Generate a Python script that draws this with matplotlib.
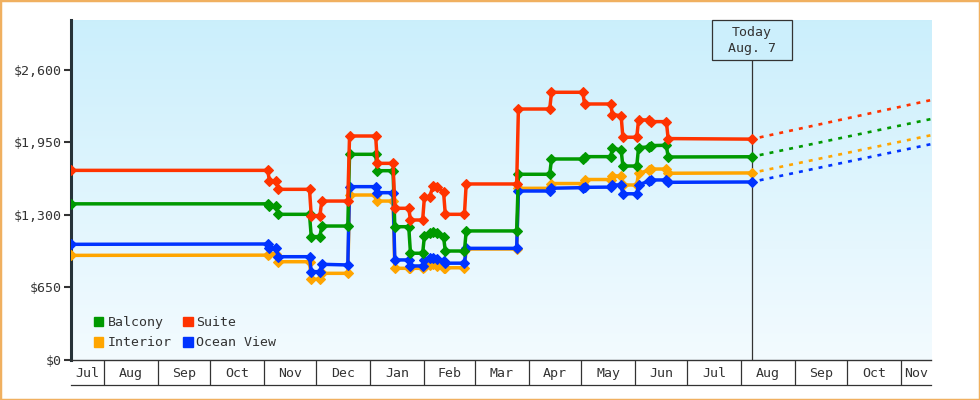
import numpy as np
import matplotlib
matplotlib.use("Agg")
import matplotlib.pyplot as plt
import matplotlib.dates as mdates
import matplotlib.transforms as mtransforms
from matplotlib.patches import Rectangle, Patch

# ---------------- data ----------------
x_start = "2023-07-13"
x_end = "2024-11-18"
today = "2024-08-07"
today_label = "Today\nAug. 7"

month_labels = ["Jul", "Aug", "Sep", "Oct", "Nov", "Dec", "Jan", "Feb", "Mar",
                "Apr", "May", "Jun", "Jul", "Aug", "Sep", "Oct", "Nov"]

y_ticks = [0, 650, 1300, 1950, 2600]
y_tick_labels = ["$0", "$650", "$1,300", "$1,950", "$2,600"]

common_dates = ["2023-07-13", "2023-11-03", "2023-11-04", "2023-11-08", "2023-11-09",
                "2023-11-27", "2023-11-28", "2023-12-03", "2023-12-04", "2023-12-19",
                "2023-12-20", "2024-01-04", "2024-01-05", "2024-01-14", "2024-01-15",
                "2024-01-23", "2024-01-24", "2024-01-31", "2024-02-01", "2024-02-04",
                "2024-02-06", "2024-02-08", "2024-02-12", "2024-02-13", "2024-02-24",
                "2024-02-25", "2024-03-25", "2024-03-26", "2024-04-13", "2024-04-14",
                "2024-05-02", "2024-05-03", "2024-05-18", "2024-05-19", "2024-05-24",
                "2024-05-25", "2024-06-02", "2024-06-03", "2024-06-09", "2024-06-10",
                "2024-06-19", "2024-06-20", "2024-08-07"]

suite_prices = [1700, 1700, 1605, 1605, 1530, 1530, 1294, 1294, 1425, 1425,
                2008, 2008, 1763, 1763, 1360, 1360, 1255, 1255, 1460, 1462,
                1560, 1555, 1505, 1306, 1306, 1578, 1578, 2250, 2250, 2400,
                2400, 2295, 2295, 2200, 2190, 1997, 1997, 2152, 2152, 2137,
                2137, 1985, 1980]

balcony_prices = [1400, 1400, 1381, 1381, 1306, 1306, 1106, 1106, 1201, 1201,
                  1844, 1844, 1697, 1697, 1195, 1195, 957, 957, 1112, 1136,
                  1150, 1136, 1106, 977, 977, 1157, 1157, 1665, 1665, 1802,
                  1802, 1823, 1823, 1898, 1883, 1739, 1739, 1904, 1910, 1922,
                  1925, 1820, 1822]

interior_prices = [938, 940, 952, 952, 881, 881, 724, 724, 777, 777,
                   1479, 1479, 1425, 1425, 822, 822, 822, 822, 830, 855,
                   858, 840, 827, 827, 827, 995, 995, 1539, 1539, 1582,
                   1582, 1618, 1618, 1650, 1650, 1569, 1569, 1674, 1700, 1712,
                   1712, 1674, 1677]

ocean_prices = [1037, 1040, 1001, 1001, 926, 926, 792, 792, 858, 852,
                1554, 1554, 1500, 1500, 897, 897, 843, 843, 897, 915,
                912, 905, 885, 868, 868, 1001, 1001, 1515, 1515, 1540,
                1545, 1548, 1550, 1569, 1569, 1490, 1490, 1569, 1605, 1614,
                1614, 1593, 1596]

forecast_dates = ["2024-08-07", "2024-11-18"]
suite_forecast = [1980, 2330]
balcony_forecast = [1822, 2160]
interior_forecast = [1677, 2015]
ocean_forecast = [1596, 1935]

series = [
    ("Interior", "#ffa500", interior_prices, interior_forecast),
    ("Ocean View", "#0033ff", ocean_prices, ocean_forecast),
    ("Balcony", "#009900", balcony_prices, balcony_forecast),
    ("Suite", "#ff3300", suite_prices, suite_forecast),
]
legend_order = ["Balcony", "Interior", "Suite", "Ocean View"]

# ---------------- style ----------------
FONT = ["DejaVu Sans Mono"]
TXT = "#333333"
plt.rcParams["font.family"] = FONT
plt.rcParams["font.size"] = 9.5

fig = plt.figure(figsize=(9.8, 4.0), dpi=100)
fig.patch.set_facecolor("white")
ax = fig.add_axes([71 / 980, 40 / 400, 860 / 980, 340 / 400])

xmin = mdates.date2num(np.datetime64(x_start))
xmax = mdates.date2num(np.datetime64(x_end))
ax.set_xlim(xmin, xmax)
ax.set_ylim(0, 3048)

# background gradient
grad = np.linspace(0, 1, 256).reshape(-1, 1)
top = np.array([0.796, 0.937, 0.988])
bot = np.array([0.953, 0.984, 1.0])
img = top[None, None, :] * (1 - grad[:, :, None]) + bot[None, None, :] * grad[:, :, None]
ax.imshow(img, extent=[0, 1, 0, 1], transform=ax.transAxes, aspect="auto",
          zorder=0, interpolation="bilinear")
ax.set_facecolor("none")

# series
d_hist = np.array(common_dates, dtype="datetime64[D]")
d_fc = np.array(forecast_dates, dtype="datetime64[D]")
handles = {}
for z, (name, col, vals, fc) in enumerate(series):
    ax.plot(d_hist, vals, color=col, lw=2.5, marker="D", ms=5.0, mew=0.8,
            mec=col, mfc=col, zorder=3 + z, solid_joinstyle="miter")
    ax.plot(d_fc, fc, color=col, lw=1.9, linestyle=(4.5, (1.5, 2.3)),
            zorder=3 + z)
    handles[name] = Patch(facecolor=col, edgecolor=col)

# today line and box
tnum = mdates.date2num(np.datetime64(today))
ax.axvline(tnum, ymin=0, ymax=1, color=TXT, lw=0.9, zorder=2)
anchor = mtransforms.ScaledTranslation(tnum, 1.0, ax.get_xaxis_transform())
btrans = fig.dpi_scale_trans + anchor
box = Rectangle((-0.40, -0.403), 0.80, 0.403, transform=btrans, fill=True,
                facecolor=(0.80, 0.937, 0.988), edgecolor=TXT, lw=0.9,
                zorder=10, clip_on=False)
ax.add_patch(box)
ax.text(0, -0.203, today_label, transform=btrans, ha="center", va="center",
        multialignment="center", linespacing=1.33, color=TXT, fontsize=9.5,
        zorder=11)

# y axis
ax.set_yticks(y_ticks)
ax.set_yticklabels(y_tick_labels)
ax.tick_params(axis="y", direction="out", length=5, width=1.5, color=TXT,
               labelcolor=TXT, pad=2, labelsize=9.5)

# x axis: month cells
first = np.datetime64(x_start, "M")
last = np.datetime64(x_end, "M")
months = np.arange(first, last + 1, dtype="datetime64[M]")
bounds = [mdates.date2num(m.astype("datetime64[D]")) for m in months[1:]]
edges = [xmin] + bounds + [xmax]
centers = [(a + b) / 2 for a, b in zip(edges[:-1], edges[1:])]
ax.set_xticks(bounds)
ax.set_xticklabels([])
ax.tick_params(axis="x", which="major", direction="out", length=18, width=0.9,
               color=TXT)
ax.set_xticks(centers, minor=True)
ax.set_xticklabels(month_labels[:len(centers)], minor=True)
ax.tick_params(axis="x", which="minor", length=0, pad=5, labelcolor=TXT,
               labelsize=9.5)
ax.plot([0, 1], [-25 / 340, -25 / 340], transform=ax.transAxes, color=TXT,
        lw=0.9, clip_on=False)

for s in ["top", "right"]:
    ax.spines[s].set_visible(False)
ax.spines["left"].set_linewidth(2.2)
ax.spines["left"].set_color("#263238")
ax.spines["bottom"].set_linewidth(1.0)
ax.spines["bottom"].set_color(TXT)

# legend
leg = ax.legend([handles[n] for n in legend_order], legend_order, ncol=2,
                loc="lower left", bbox_to_anchor=(0.017, 0.008), frameon=False,
                handlelength=0.75, handleheight=0.75, handletextpad=0.3,
                columnspacing=0.85, labelspacing=0.55, fontsize=9.5,
                borderaxespad=0.2)
for t in leg.get_texts():
    t.set_color(TXT)
leg.set_zorder(20)

# outer border
fig.patches.append(Rectangle((0, 0), 1, 1, transform=fig.transFigure, fill=False,
                             edgecolor="#f0b060", lw=2.5))

fig.savefig("out.png", dpi=100)
